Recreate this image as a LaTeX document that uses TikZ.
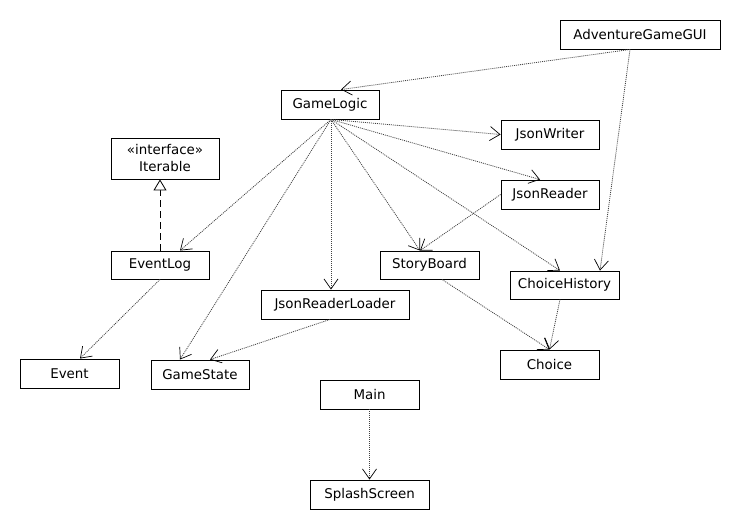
\documentclass[tikz,border=0pt]{standalone}
\usepackage{fontspec}
\setmainfont{DejaVu Sans}
\usetikzlibrary{arrows.meta}
\begin{document}
\begin{tikzpicture}[x=1pt,y=-1pt,
  cls/.style={draw=black,line width=0.9pt,fill=white,minimum height=29pt,inner sep=0pt,font=\fontsize{13.4}{15}\selectfont},
  dep/.style={draw=black!75,line width=0.8pt,dash pattern=on 1pt off 1pt,-{Straight Barb[length=10pt,width=14pt,line width=0.7pt,black]}},
  impl/.style={draw=black,line width=0.8pt,dash pattern=on 7pt off 4pt,-{Triangle[open,length=11pt,width=13pt,line width=0.8pt,fill=white]}}]
\useasboundingbox (0,0) rectangle (740,530);
\node[cls,minimum width=160pt] (AGG) at (640,34.5) {AdventureGameGUI};
\node[cls,minimum width=98pt] (GL) at (330,104.5) {GameLogic};
\node[cls,minimum width=98pt] (JW) at (550,134.5) {JsonWriter};
\node[cls,minimum width=98pt] (JR) at (550,194.5) {JsonReader};
\node[cls,minimum width=108pt,minimum height=41pt,align=center,font=\fontsize{13.4}{17}\selectfont] (IT) at (165,158.5) {«interface»\\Iterable};
\node[cls,minimum width=98pt,minimum height=28pt] (EL) at (160,265) {EventLog};
\node[cls,minimum width=99pt,minimum height=28pt] (SB) at (429.5,265) {StoryBoard};
\node[cls,minimum width=109pt,minimum height=28pt] (CH) at (564.5,285) {ChoiceHistory};
\node[cls,minimum width=148pt] (JRL) at (335,304.5) {JsonReaderLoader};
\node[cls,minimum width=99pt] (EV) at (69.5,373.5) {Event};
\node[cls,minimum width=98pt] (GS) at (200,374.5) {GameState};
\node[cls,minimum width=99pt] (CHO) at (549.5,364.5) {Choice};
\node[cls,minimum width=99pt] (MN) at (369.5,394.5) {Main};
\node[cls,minimum width=119pt] (SS) at (369.5,494.5) {SplashScreen};
% connectors
\draw[dep] ([xshift=-10pt]AGG.south) -- ([xshift=11pt]GL.north);
\draw[dep] ([xshift=-10pt]AGG.south) -- ([xshift=35.5pt]CH.north);
\draw[dep] ([xshift=1pt]GL.south) -- (JW.west);
\draw[dep] ([xshift=1pt]GL.south) -- ([xshift=-10pt]JR.north);
\draw[dep] ([xshift=1pt]GL.south) -- ([xshift=-4.5pt]CH.north);
\draw[dep] ([xshift=1pt]GL.south) -- ([xshift=-9.5pt]SB.north);
\draw[dep] (JR.west) -- ([xshift=-9.5pt]SB.north);
\draw[dep] ([xshift=1pt]GL.south) -- ([xshift=1pt]GL.south |- JRL.north);
\draw[dep] ([xshift=1pt]GL.south) -- ([xshift=20pt]EL.north);
\draw[dep] ([xshift=1pt]GL.south) -- ([xshift=-20pt]GS.north);
\draw[dep] ([xshift=-5pt]JRL.south) -- ([xshift=10pt]GS.north);
\draw[dep] (EL.south) -- ([xshift=10.5pt]EV.north);
\draw[dep] ([xshift=12.5pt]SB.south) -- (CHO.north);
\draw[dep] ([xshift=-4.5pt]CH.south) -- (CHO.north);
\draw[dep] (MN.south) -- (SS.north);
\draw[impl] (EL.north) -- (EL.north |- IT.south);
\end{tikzpicture}
\end{document}
